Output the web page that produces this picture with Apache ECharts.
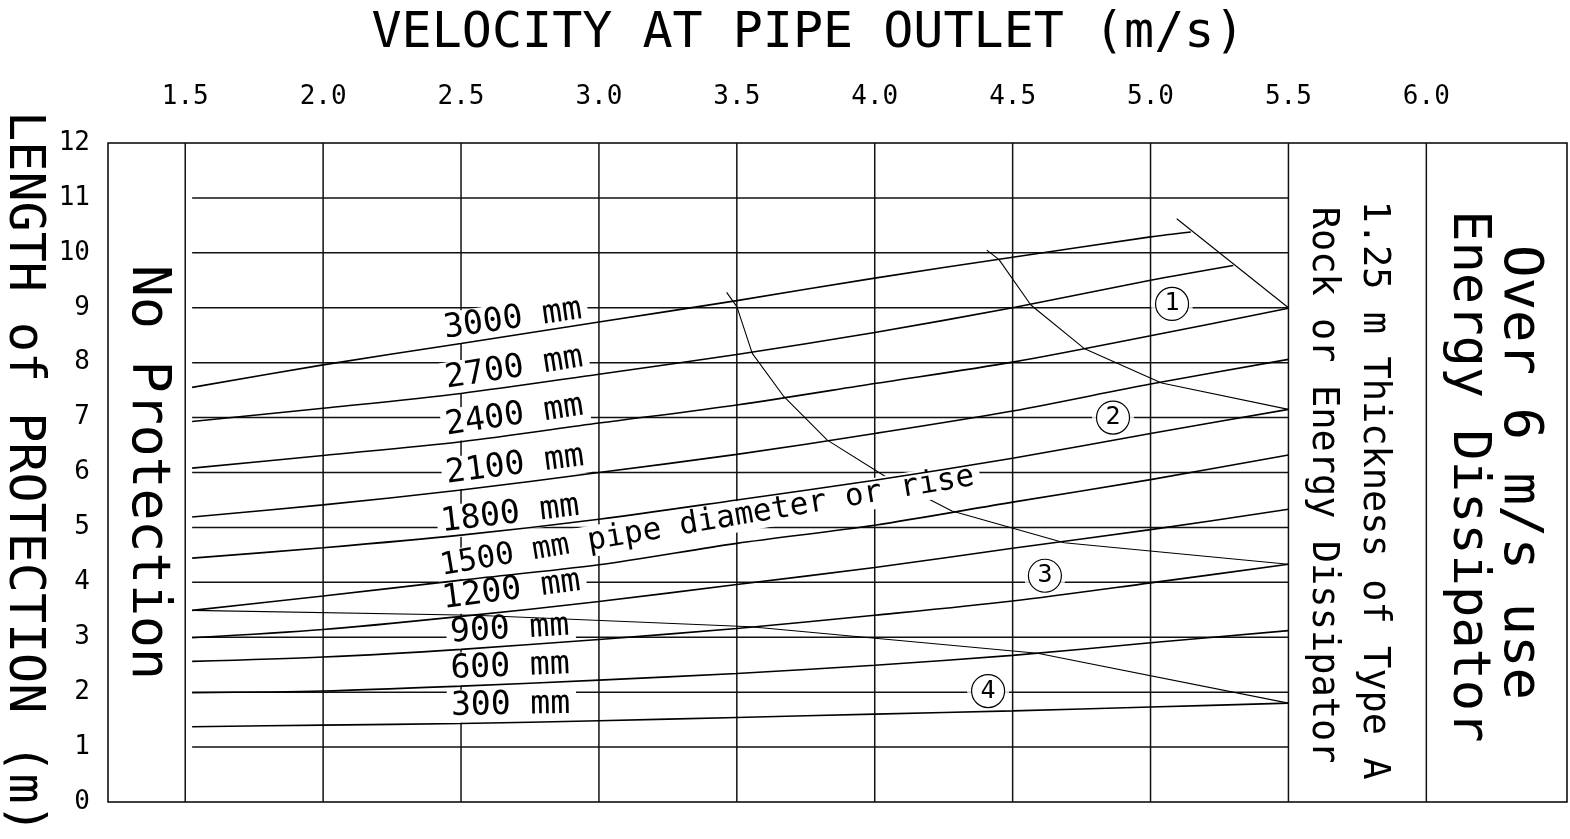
<!DOCTYPE html>
<html><head><meta charset="utf-8">
<script src="https://cdn.jsdelivr.net/npm/echarts@6/dist/echarts.min.js"></script>
<style>html,body{margin:0;padding:0;background:#fff}#c{width:1570px;height:839px}</style>
</head><body><div id="c"></div>
<script>
// ---------- data ----------
const velocityTicks = [1.5, 2.0, 2.5, 3.0, 3.5, 4.0, 4.5, 5.0, 5.5, 6.0];
const hGridY = [1, 2, 3, 4, 5, 6, 7, 8, 9, 10, 11];
const vGridX = [1.5, 2.0, 2.5, 3.0, 3.5, 4.0, 4.5, 5.0, 5.5, 6.0];

const vel     = [1.525, 2.0, 2.5, 3.0, 3.5, 4.0, 4.5, 5.0, 5.5];
const vel3000 = [1.525, 2.0, 2.5, 3.0, 3.5, 4.0, 4.5, 5.0, 5.146];
const vel2700 = [1.525, 2.0, 2.5, 3.0, 3.5, 4.0, 4.5, 5.0, 5.30];
const len3000 = [7.55, 7.96, 8.35, 8.74, 9.13, 9.54, 9.92, 10.29, 10.38];
const len2700 = [6.93, 7.17, 7.44, 7.79, 8.15, 8.55, 9.00, 9.50, 9.77];
const len2400 = [6.08, 6.31, 6.56, 6.90, 7.23, 7.62, 8.01, 8.49, 8.99];
const len2100 = [5.19, 5.41, 5.68, 6.00, 6.33, 6.71, 7.12, 7.61, 8.06];
const len1800 = [4.44, 4.63, 4.86, 5.15, 5.50, 5.86, 6.26, 6.71, 7.15];
const len1500 = [3.49, 3.75, 4.04, 4.32, 4.71, 5.04, 5.46, 5.87, 6.32];
const len1200 = [2.99, 3.14, 3.38, 3.65, 3.96, 4.27, 4.62, 4.96, 5.33];
const len900  = [2.56, 2.64, 2.78, 2.96, 3.16, 3.40, 3.66, 3.99, 4.33];
const len600  = [1.99, 2.02, 2.11, 2.22, 2.34, 2.49, 2.67, 2.90, 3.12];
const len300  = [1.37, 1.40, 1.43, 1.48, 1.54, 1.60, 1.66, 1.73, 1.80];

const zone1Vel = [5.095, 5.5];
const zone1Len = [10.62, 9.0];
const zone2Vel = [4.406, 4.45, 4.566, 4.759, 5.04, 5.5];
const zone2Len = [10.05, 9.88, 9.05, 8.26, 7.63, 7.15];
const zone3Vel = [3.463, 3.50, 3.556, 3.671, 3.828, 4.05, 4.28, 4.687, 5.5];
const zone3Len = [9.28, 9.02, 8.17, 7.38, 6.59, 5.89, 5.30, 4.72, 4.33];
const zone4Vel = [1.525, 2.55, 3.55, 4.59, 5.5];
const zone4Len = [3.49, 3.40, 3.19, 2.71, 1.80];

const labelText  = ['3000 mm', '2700 mm', '2400 mm', '2100 mm', '1800 mm',
                    '1500 mm pipe diameter or rise', '1200 mm', '900 mm', '600 mm', '300 mm'];
const labelVel   = [2.434, 2.44, 2.44, 2.44, 2.422, 2.422, 2.428, 2.452, 2.452, 2.452];
const labelLen   = [8.29, 7.38, 6.53, 5.65, 4.77, 3.98, 3.37, 2.76, 2.10, 1.43];
const labelAngle = [8.2, 9, 8.3, 7.4, 6.8, 9.6, 7.5, 3.5, 2.4, 1];

const markerText = ['1', '2', '3', '4'];
const markerVel  = [5.078, 4.864, 4.617, 4.411];
const markerLen  = [9.07, 7.0, 4.12, 2.02];

const noteText = ['No Protection', 'Rock or Energy Dissipator', '1.25 m Thickness of Type A',
                  'Energy Dissipator', 'Over 6 m/s use'];
const noteVel  = [1.36, 5.625, 5.807, 6.151, 6.336];
const noteLen  = [6.0, 5.77, 5.68, 5.93, 6.0];

// ---------- styling / assembly ----------
const FONT = "'DejaVu Sans Mono', monospace";
const noteFont = [53, 37, 37, 52, 54];
const labelFont = [33, 33, 33, 33, 33, 31, 33, 33, 33, 33];
const gridStart = 1.525, gridEnd = 5.5;
const pairs = (xs, ys) => xs.map((x, i) => [x, ys[i]]);
const plainText = { color: '#000', opacity: 1, textBorderWidth: 0, textBorderColor: 'transparent', textShadowBlur: 0 };

const series = [];
const base = { type: 'line', symbol: 'none', silent: true, animation: false };

hGridY.forEach(y => series.push(Object.assign({}, base, {
  z: 1, data: [[gridStart, y], [gridEnd, y]], lineStyle: { color: '#111', width: 1.5 }
})));
vGridX.forEach(x => series.push(Object.assign({}, base, {
  z: 1, data: [[x, 0], [x, 12]], lineStyle: { color: '#111', width: 1.5 }
})));

// zone 3 line sits below the labels (hidden by the "or rise" text)
series.push(Object.assign({}, base, { z: 2, data: pairs(zone3Vel, zone3Len), lineStyle: { color: '#000', width: 1.1 } }));

// white halos around circle markers
series.push({ type: 'scatter', z: 2, silent: true, animation: false, symbolSize: 42,
  itemStyle: { color: '#fff' }, data: pairs(markerVel, markerLen) });

// pipe labels
series.push({ type: 'scatter', z: 3, silent: true, animation: false, symbolSize: 1,
  itemStyle: { color: '#fff' },
  data: labelVel.map((x, i) => ({ value: [x, labelLen[i]],
    label: { rotate: labelAngle[i], fontSize: labelFont[i], lineHeight: labelFont[i] } })),
  label: Object.assign({ show: true, position: [0, 0], align: 'left', verticalAlign: 'bottom',
    formatter: p => labelText[p.dataIndex], fontFamily: FONT,
    backgroundColor: '#fff', padding: [0, 6, 0, 4] }, plainText) });

// notes in bands
series.push({ type: 'scatter', z: 3, silent: true, animation: false, symbolSize: 1,
  itemStyle: { color: '#fff' },
  data: noteVel.map((x, i) => ({ value: [x, noteLen[i]], label: { fontSize: noteFont[i], lineHeight: noteFont[i] } })),
  label: Object.assign({ show: true, position: 'inside', rotate: -90, align: 'center', verticalAlign: 'middle',
    formatter: p => noteText[p.dataIndex], fontFamily: FONT }, plainText) });

// pipe curves
[[vel3000, len3000], [vel2700, len2700], [vel, len2400], [vel, len2100], [vel, len1800],
 [vel, len1500], [vel, len1200], [vel, len900], [vel, len600], [vel, len300]].forEach(([xs, ys]) =>
  series.push(Object.assign({}, base, { z: 4, smooth: 0.3, data: pairs(xs, ys), lineStyle: { color: '#000', width: 1.6 } })));

// zone lines 1, 2, 4
[[zone1Vel, zone1Len], [zone2Vel, zone2Len], [zone4Vel, zone4Len]].forEach(([xs, ys]) =>
  series.push(Object.assign({}, base, { z: 4, data: pairs(xs, ys), lineStyle: { color: '#000', width: 1.1 } })));

// circle markers
series.push({ type: 'scatter', z: 5, silent: true, animation: false, symbolSize: 33,
  itemStyle: { color: '#fff', borderColor: '#000', borderWidth: 1.2, opacity: 1 },
  data: pairs(markerVel, markerLen),
  label: Object.assign({ show: true, position: 'inside', formatter: p => markerText[p.dataIndex],
    fontFamily: FONT, fontSize: 25 }, plainText) });

const chart = echarts.init(document.getElementById('c'), null, { renderer: 'canvas' });
chart.setOption({
  animation: false,
  backgroundColor: '#fff',
  title: { text: 'VELOCITY AT PIPE OUTLET (m/s)', left: 803, top: 4, textAlign: 'center',
    textStyle: { fontFamily: FONT, fontSize: 50, lineHeight: 50, fontWeight: 'normal', color: '#000' } },
  grid: { left: 108, right: 3, top: 143, bottom: 37, containLabel: false, outerBoundsMode: 'none',
    show: true, borderColor: '#000', borderWidth: 1.5 },
  xAxis: { type: 'value', position: 'top', min: 1.22, max: 6.51,
    axisLine: { show: false }, axisTick: { show: false }, splitLine: { show: false },
    axisLabel: { customValues: velocityTicks, formatter: v => v.toFixed(1), margin: 33,
      fontFamily: FONT, fontSize: 26, color: '#000' } },
  yAxis: { type: 'value', min: 0, max: 12, interval: 1,
    axisLine: { show: false }, axisTick: { show: false }, splitLine: { show: false },
    axisLabel: { margin: 18, fontFamily: FONT, fontSize: 26, color: '#000' },
    name: 'LENGTH of PROTECTION (m)', nameLocation: 'middle', nameRotate: -90, nameGap: 60,
    nameTextStyle: { fontFamily: FONT, fontSize: 50, color: '#000' } },
  series: series
});
</script>
</body></html>
